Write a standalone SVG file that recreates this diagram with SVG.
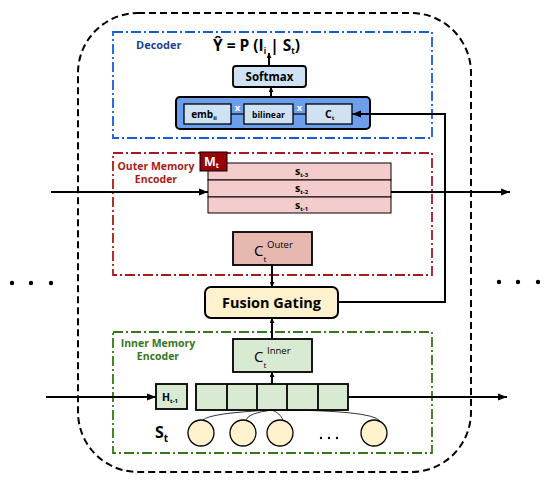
<svg xmlns="http://www.w3.org/2000/svg" width="550" height="484" viewBox="0 0 550 484">
<style>
text{font-family:"Open Sans","Noto Sans","DejaVu Sans",sans-serif;}
.b{font-weight:bold;}
.box{stroke:#000;stroke-width:1.8;}
.con{stroke:#000;stroke-width:2;fill:none;}
.dd{fill:none;stroke-width:1.8;stroke-dasharray:10 3 2 3;}
.dot{fill:#000;}
</style>
<defs>
<marker id="ah" viewBox="0 0 10 10" refX="10" refY="5" markerWidth="5" markerHeight="5" orient="auto" markerUnits="userSpaceOnUse">
<path d="M0,0 L10,5 L0,10 z" fill="#000"/>
</marker>
<marker id="ahL" viewBox="0 0 10 10" refX="10" refY="5" markerWidth="9" markerHeight="9" orient="auto" markerUnits="userSpaceOnUse">
<path d="M0,1 L10,5 L0,9 z" fill="#000"/>
</marker>
</defs>
<rect width="550" height="484" fill="#fff"/>

<!-- outer dashed container -->
<rect id="container" x="78" y="13" width="393" height="459" rx="60" ry="60" fill="none" stroke="#000" stroke-width="2" stroke-dasharray="7 4"/>

<!-- ellipses -->
<g id="dots-left"><circle class="dot" cx="12" cy="283" r="2.2"/><circle class="dot" cx="31" cy="283" r="2.2"/><circle class="dot" cx="51" cy="283" r="2.2"/></g>
<g id="dots-right"><circle class="dot" cx="499" cy="282" r="2.2"/><circle class="dot" cx="518" cy="282" r="2.2"/><circle class="dot" cx="538" cy="282" r="2.2"/></g>

<!-- Decoder group -->
<g id="decoder">
<rect x="113" y="32" width="319" height="106" class="dd" stroke="#1a5ad7"/>
<text x="136" y="49" class="b" font-size="11" fill="#1c4587">Decoder</text>
<text x="213" y="51" class="b" font-size="15.5" fill="#000">Ŷ = P (I<tspan font-size="8" dy="3">i</tspan><tspan dy="-3"> | S</tspan><tspan font-size="8" dy="3">t</tspan><tspan dy="-3">)</tspan></text>
</g>
<g id="softmax">
<rect x="233" y="66" width="73" height="21" rx="3" fill="#cfe2f3" class="box"/>
<text x="269.5" y="81" class="b" font-size="11.5" text-anchor="middle">Softmax</text>
</g>
<g id="bilinear-block">
<rect x="176" y="97" width="194" height="32" rx="4" fill="#6d9eeb" stroke="#000" stroke-width="2"/>
<line x1="231" y1="114" x2="244" y2="114" stroke="#000" stroke-width="1.2"/>
<line x1="293" y1="114" x2="306" y2="114" stroke="#000" stroke-width="1.2"/>
<rect x="184" y="104" width="47" height="20" fill="#cfe2f3" stroke="#000" stroke-width="1.3"/>
<rect x="244" y="104" width="49" height="20" fill="#cfe2f3" stroke="#000" stroke-width="1.3"/>
<rect x="306" y="104" width="46" height="20" fill="#cfe2f3" stroke="#000" stroke-width="1.3"/>
<text x="204" y="118" class="b" font-size="10" text-anchor="middle">emb<tspan font-size="6" dy="2">ii</tspan></text>
<text x="268.5" y="117.5" class="b" font-size="8.5" text-anchor="middle">bilinear</text>
<text x="325" y="118" class="b" font-size="10.5">C<tspan font-size="6" dy="2">t</tspan></text>
<text x="237.5" y="111" class="b" font-size="9.5" fill="#fff" text-anchor="middle">x</text>
<text x="299.5" y="111" class="b" font-size="9.5" fill="#fff" text-anchor="middle">x</text>
</g>

<!-- Outer memory encoder -->
<g id="outer-encoder">
<rect x="113" y="153" width="319" height="122" class="dd" stroke="#a61c1c"/>
<text x="156" y="170" class="b" font-size="10.5" fill="#a61c1c" text-anchor="middle">Outer Memory</text>
<text x="156" y="183" class="b" font-size="10.5" fill="#a61c1c" text-anchor="middle">Encoder</text>
</g>
<g id="memory-stack">
<rect x="208" y="163" width="183" height="17" fill="#f4cccc" stroke="#000" stroke-width="1"/>
<rect x="208" y="180" width="183" height="17" fill="#f4cccc" stroke="#000" stroke-width="1"/>
<rect x="208" y="197" width="183" height="16" fill="#f4cccc" stroke="#000" stroke-width="1"/>
<text x="295" y="175" class="b" font-size="10.5">s<tspan font-size="6" dy="2">t-3</tspan></text>
<text x="295" y="192" class="b" font-size="10.5">s<tspan font-size="6" dy="2">t-2</tspan></text>
<text x="295" y="209" class="b" font-size="10.5">s<tspan font-size="6" dy="2">t-1</tspan></text>
</g>
<g id="mt">
<rect x="200" y="152" width="27" height="19" fill="#990000" stroke="#000" stroke-width="1"/>
<text x="204" y="166" class="b" font-size="12.5" fill="#fff">M<tspan font-size="7" dy="2">t</tspan></text>
</g>
<g id="c-outer">
<rect x="233" y="232" width="79" height="33" fill="#e6b8af" class="box"/>
<text x="254" y="256" font-size="15">C<tspan font-size="8" dy="6">t</tspan></text>
<text x="267" y="248" font-size="9.5">Outer</text>
</g>

<!-- Fusion gating -->
<g id="fusion">
<rect x="205" y="287" width="133" height="31" rx="6" fill="#fff2cc" stroke="#000" stroke-width="2"/>
<text x="271.5" y="308" class="b" font-size="14.5" text-anchor="middle">Fusion Gating</text>
</g>

<!-- Inner memory encoder -->
<g id="inner-encoder">
<rect x="113" y="332" width="319" height="121" class="dd" stroke="#38761d"/>
<text x="158" y="347" class="b" font-size="10.5" fill="#38761d" text-anchor="middle">Inner Memory</text>
<text x="158" y="360" class="b" font-size="10.5" fill="#38761d" text-anchor="middle">Encoder</text>
<text x="155" y="438" class="b" font-size="16">S<tspan font-size="10" dy="4">t</tspan></text>
</g>
<g id="c-inner">
<rect x="233" y="339" width="79" height="33" fill="#d9ead3" class="box"/>
<text x="254" y="362" font-size="15">C<tspan font-size="8" dy="6">t</tspan></text>
<text x="267" y="354" font-size="9.5">Inner</text>
</g>
<g id="h-prev">
<rect x="156" y="384" width="31" height="25" fill="#d9ead3" class="box"/>
<text x="162" y="401" class="b" font-size="10.5">H<tspan font-size="6" dy="2">t-1</tspan></text>
</g>
<g id="cells">
<rect x="196" y="384" width="152" height="26" fill="#d9ead3" class="box"/>
<line x1="227" y1="384" x2="227" y2="410" stroke="#000" stroke-width="1.8"/>
<line x1="257" y1="384" x2="257" y2="410" stroke="#000" stroke-width="1.8"/>
<line x1="287" y1="384" x2="287" y2="410" stroke="#000" stroke-width="1.8"/>
<line x1="318" y1="384" x2="318" y2="410" stroke="#000" stroke-width="1.8"/>
</g>
<g id="inputs">
<circle cx="201" cy="433" r="13" fill="#fff2cc" stroke="#000" stroke-width="1.3"/>
<circle cx="243" cy="433" r="13" fill="#fff2cc" stroke="#000" stroke-width="1.3"/>
<circle cx="280" cy="433" r="13" fill="#fff2cc" stroke="#000" stroke-width="1.3"/>
<circle cx="374" cy="433" r="13" fill="#fff2cc" stroke="#000" stroke-width="1.3"/>
<circle class="dot" cx="321" cy="438" r="1.2"/><circle class="dot" cx="329" cy="438" r="1.2"/><circle class="dot" cx="337" cy="438" r="1.2"/>
</g>

<!-- connectors -->
<g id="connectors">
<line x1="269" y1="66" x2="269" y2="53" class="con" stroke-width="1.5" marker-end="url(#ah)"/>
<line x1="271" y1="97" x2="271" y2="87" class="con" stroke-width="1.5" marker-end="url(#ah)"/>
<line x1="272" y1="265" x2="272" y2="287" class="con" stroke-width="1.5" marker-end="url(#ah)"/>
<line x1="272" y1="339" x2="272" y2="318" class="con" stroke-width="1.5" marker-end="url(#ah)"/>
<line x1="272" y1="384" x2="272" y2="372" class="con" stroke-width="1.3" marker-end="url(#ah)"/>
<polyline points="338,302 445,302 445,114 352,114" class="con" stroke-width="1.8" marker-end="url(#ahL)"/>
<line x1="51" y1="192" x2="208" y2="192" class="con" marker-end="url(#ahL)"/>
<line x1="391" y1="192" x2="510" y2="192" class="con" marker-end="url(#ahL)"/>
<line x1="46" y1="397" x2="156" y2="397" class="con" marker-end="url(#ahL)"/>
<line x1="348" y1="397" x2="507" y2="397" class="con" marker-end="url(#ahL)"/>
<path d="M272,410 Q210,413 203,420" stroke="#000" stroke-width="0.8" fill="none"/>
<path d="M272,410 Q248,413 246,420" stroke="#000" stroke-width="0.8" fill="none"/>
<path d="M272,410 Q280,413 283,420" stroke="#000" stroke-width="0.8" fill="none"/>
<path d="M272,410 Q372,410 380,421" stroke="#000" stroke-width="0.8" fill="none"/>
</g>
</svg>
